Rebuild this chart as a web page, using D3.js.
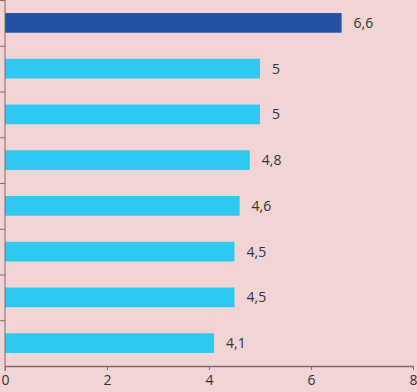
<!DOCTYPE html>
<html lang="en">
	<head>
		<meta charset="utf-8">
		<title>Horizontal bars</title>
		<script type="text/javascript" src="https://d3js.org/d3.v7.min.js"></script>
		<style type="text/css">
			body { margin: 0; background: #f2d4d5; }
			text { font-family: "Open Sans", sans-serif; fill: #333; }
		</style>
	</head>
	<body>
		<script type="text/javascript">

			// data, top to bottom
			var categories = ["a", "b", "c", "d", "e", "f", "g", "h"];
			var values = [6.6, 5, 5, 4.8, 4.6, 4.5, 4.5, 4.1];
			var xTicks = [0, 2, 4, 6, 8];

			var w = 417;
			var h = 392;
			var margin = {top: 0, right: 4, bottom: 26, left: 5};

			var svg = d3.select("body")
						.append("svg")
						.attr("width", w)
						.attr("height", h);

			var x = d3.scaleLinear()
					  .domain([0, 8])
					  .range([margin.left, w - margin.right]);

			var y = d3.scaleBand()
					  .domain(categories)
					  .range([margin.top, h - margin.bottom])
					  .paddingInner(0.57)
					  .paddingOuter(0.285);

			var yEdges = d3.scaleBand()
					  .domain(categories)
					  .range([margin.top, h - margin.bottom]);

			var comma = function(v) { return String(v).replace(".", ","); };

			// bars
			svg.selectAll("rect.bar")
			   .data(values)
			   .enter()
			   .append("rect")
			   .attr("class", "bar")
			   .attr("x", x(0))
			   .attr("y", function(d, i) { return y(categories[i]); })
			   .attr("width", function(d) { return x(d) - x(0); })
			   .attr("height", y.bandwidth())
			   .attr("fill", function(d, i) { return i === 0 ? "#2352a2" : "#2ec8f2"; });

			// value labels
			svg.selectAll("text.val")
			   .data(values)
			   .enter()
			   .append("text")
			   .attr("class", "val")
			   .attr("x", function(d) { return x(d) + 12; })
			   .attr("y", function(d, i) { return y(categories[i]) + y.bandwidth() / 2; })
			   .attr("dy", "0.35em")
			   .style("font-size", "14px")
			   .text(function(d) { return comma(d); });

			// y axis line + ticks at band edges
			var axisColor = "#7f6a6d";
			svg.append("line")
			   .attr("x1", x(0)).attr("x2", x(0))
			   .attr("y1", margin.top).attr("y2", h - margin.bottom + 5)
			   .attr("stroke", axisColor);

			svg.selectAll("line.ytick")
			   .data(categories)
			   .enter()
			   .append("line")
			   .attr("class", "ytick")
			   .attr("x1", x(0) - 5).attr("x2", x(0))
			   .attr("y1", function(d) { return yEdges(d) + 0.5; })
			   .attr("y2", function(d) { return yEdges(d) + 0.5; })
			   .attr("stroke", axisColor);

			// x axis
			var xAxis = d3.axisBottom(x)
						  .tickValues(xTicks)
						  .tickSize(4)
						  .tickSizeOuter(0)
						  .tickFormat(d3.format("d"));

			var gx = svg.append("g")
			   .attr("transform", "translate(0," + (h - margin.bottom) + ")")
			   .call(xAxis);

			gx.select(".domain").attr("stroke", axisColor).attr("stroke-width", 1.5);
			gx.selectAll(".tick line").attr("stroke", axisColor);
			gx.selectAll(".tick text")
			  .attr("y", 9)
			  .style("font-size", "14px")
			  .style("font-family", "'Open Sans', sans-serif")
			  .attr("fill", "#333");

		</script>
	</body>
</html>
